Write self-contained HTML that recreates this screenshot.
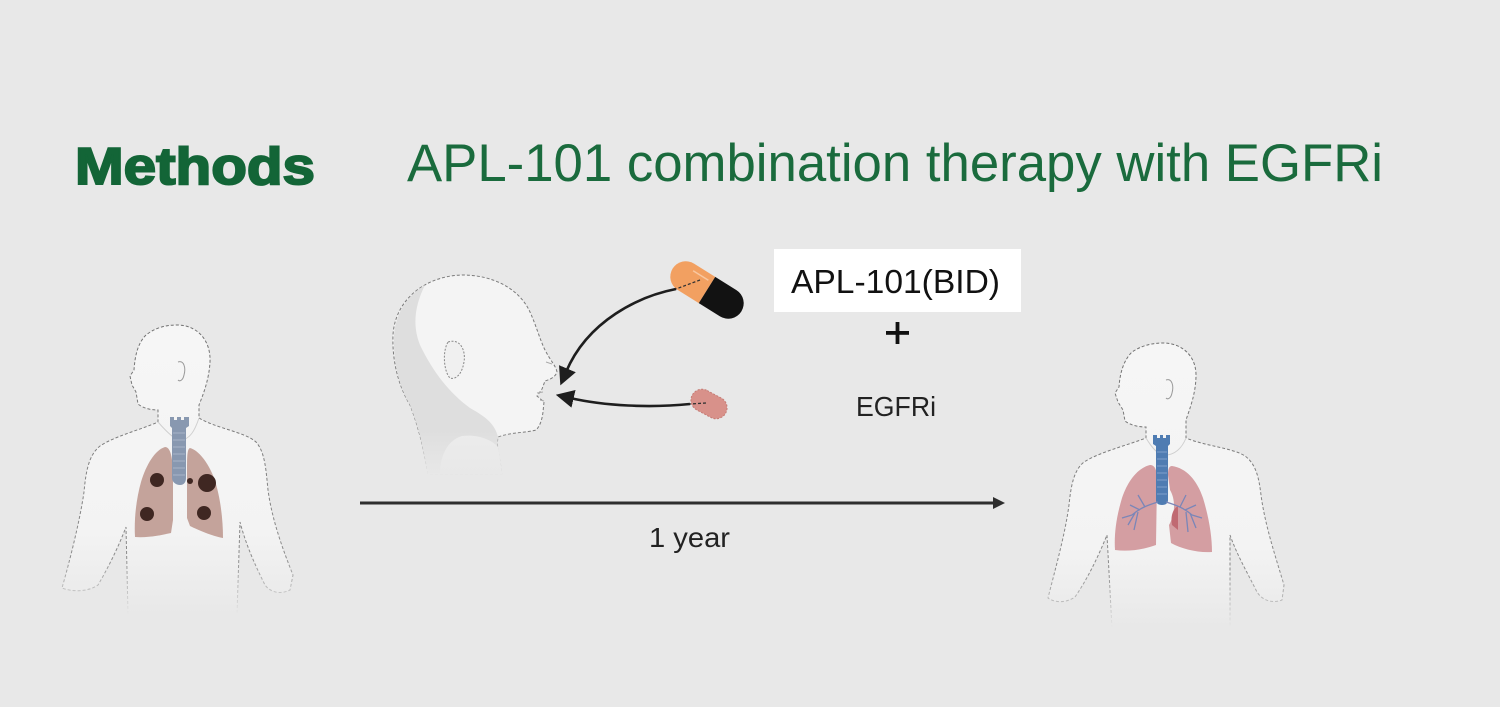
<!DOCTYPE html>
<html>
<head>
<meta charset="utf-8">
<style>
html,body{margin:0;padding:0;background:#e8e8e8;}
body{width:1500px;height:707px;overflow:hidden;}
svg{display:block;}
text{font-family:"Liberation Sans",Arial,sans-serif;}
</style>
</head>
<body>
<svg width="1500" height="707" viewBox="0 0 1500 707" xmlns="http://www.w3.org/2000/svg">
<defs>
  <linearGradient id="bodyL" x1="0" y1="325" x2="0" y2="615" gradientUnits="userSpaceOnUse">
    <stop offset="0" stop-color="#f6f6f6"/>
    <stop offset="0.72" stop-color="#f3f3f3"/>
    <stop offset="1" stop-color="#e8e8e8"/>
  </linearGradient>
  <linearGradient id="bodyR" x1="0" y1="343" x2="0" y2="628" gradientUnits="userSpaceOnUse">
    <stop offset="0" stop-color="#f6f6f6"/>
    <stop offset="0.72" stop-color="#f3f3f3"/>
    <stop offset="1" stop-color="#e8e8e8"/>
  </linearGradient>
  <linearGradient id="strokeL" x1="0" y1="325" x2="0" y2="615" gradientUnits="userSpaceOnUse">
    <stop offset="0" stop-color="#707070"/>
    <stop offset="0.8" stop-color="#8a8a8a"/>
    <stop offset="1" stop-color="#8a8a8a" stop-opacity="0"/>
  </linearGradient>
  <linearGradient id="strokeR" x1="0" y1="343" x2="0" y2="628" gradientUnits="userSpaceOnUse">
    <stop offset="0" stop-color="#707070"/>
    <stop offset="0.8" stop-color="#8a8a8a"/>
    <stop offset="1" stop-color="#8a8a8a" stop-opacity="0"/>
  </linearGradient>
  <linearGradient id="headFade" x1="0" y1="430" x2="0" y2="476" gradientUnits="userSpaceOnUse">
    <stop offset="0" stop-color="#e8e8e8" stop-opacity="0"/>
    <stop offset="1" stop-color="#e8e8e8" stop-opacity="1"/>
  </linearGradient>
  <marker id="ah" viewBox="0 0 10 10" refX="2" refY="5" markerWidth="7" markerHeight="7" orient="auto" markerUnits="strokeWidth">
    <path d="M0,0 L10,5 L0,10 Z" fill="#1e1e1e"/>
  </marker>
</defs>

<rect width="1500" height="707" fill="#e8e8e8"/>

<!-- Titles -->
<text x="75" y="184" font-size="52" font-weight="bold" fill="#136537" stroke="#136537" stroke-width="2" textLength="240" lengthAdjust="spacingAndGlyphs">Methods</text>
<text x="407" y="181" font-size="53" fill="#1a6b3d" textLength="976" lengthAdjust="spacingAndGlyphs">APL-101 combination therapy with EGFRi</text>

<!-- Left body -->
<path d="M177 325 C197 325 211 340 210 362 C209 380 203 395 199 405 L199 418 C215 428 245 432 256 442 C265 452 266 470 268 490 C272 520 283 550 293 575 L290 590 C280 595 270 592 265 585 C255 565 246 545 240 522 L237 614 L128 614 L126 527 C118 548 108 568 98 585 C88 592 72 592 62 588 C70 560 80 520 84 492 C86 470 89 455 100 446 C115 436 140 430 158 422 L158 410 C150 410 143 408 138 404 L136 392 L132 385 L130 376 L134 370 C135 355 138 343 146 335 C155 328 165 325 177 325 Z" fill="url(#bodyL)"/>
<path d="M128 614 L126 527 C118 548 108 568 98 585 C88 592 72 592 62 588 C70 560 80 520 84 492 C86 470 89 455 100 446 C115 436 140 430 158 422 L158 410 C150 410 143 408 138 404 L136 392 L132 385 L130 376 L134 370 C135 355 138 343 146 335 C155 328 165 325 177 325 C197 325 211 340 210 362 C209 380 203 395 199 405 L199 418 C215 428 245 432 256 442 C265 452 266 470 268 490 C272 520 283 550 293 575 L290 590 C280 595 270 592 265 585 C255 565 246 545 240 522 L237 614" fill="none" stroke="url(#strokeL)" stroke-width="1" stroke-dasharray="3 2"/>
<path d="M158 422 C165 430 175 440 180 440 C190 440 195 430 199 418" fill="none" stroke="#d0d0d0" stroke-width="1"/>
<path d="M178 362 C184 360 186 368 184 375 C183 380 180 382 178 380" fill="none" stroke="#999" stroke-width="1"/>
<!-- lungs left body -->
<path d="M165 447 C155 450 146 465 141 482 C136 500 134 520 135 537 C148 538 162 535 171 533 L173 520 L173 470 C172 455 170 447 165 447 Z" fill="#c4a39b"/>
<path d="M190 448 C198 450 208 462 214 478 C220 495 223 518 223 538 C212 536 198 530 190 526 L187 518 L187 470 C187 458 187 449 190 448 Z" fill="#c4a39b"/>
<!-- trachea -->
<path d="M170 417 L174 417 L174 420 L177 420 L177 417 L181 417 L181 420 L184 420 L184 417 L189 417 L189 426 L186 428 L186 478 C186 482 184 485 180 485 C176 485 172 482 172 478 L172 428 L170 426 Z" fill="#8898b0"/>
<g stroke="#a9b5c8" stroke-width="1">
  <line x1="173" y1="433" x2="185" y2="433"/><line x1="173" y1="440" x2="185" y2="440"/>
  <line x1="173" y1="447" x2="185" y2="447"/><line x1="173" y1="454" x2="185" y2="454"/>
  <line x1="173" y1="461" x2="185" y2="461"/><line x1="173" y1="468" x2="185" y2="468"/>
  <line x1="173" y1="475" x2="185" y2="475"/>
</g>
<g fill="#3f2722">
  <circle cx="157" cy="480" r="7"/>
  <circle cx="147" cy="514" r="7"/>
  <circle cx="207" cy="483" r="9"/>
  <circle cx="190" cy="481" r="3"/>
  <circle cx="204" cy="513" r="7"/>
</g>

<!-- Right body -->
<path d="M1163 343 C1182 343 1196 356 1196 375 C1196 393 1190 408 1186 420 L1186 438 C1205 446 1233 448 1245 456 C1256 464 1259 478 1261 495 C1265 525 1275 555 1284 585 L1282 600 C1272 604 1262 600 1257 592 C1247 572 1237 555 1230 535 L1230 628 L1112 628 L1107 535 C1098 557 1088 578 1075 597 C1066 603 1055 603 1048 598 C1055 570 1065 535 1069 505 C1071 485 1074 470 1084 462 C1100 452 1125 446 1146 438 L1146 427 C1138 427 1130 425 1125 421 L1123 410 L1118 402 L1115 393 L1119 387 C1120 372 1124 360 1132 352 C1141 346 1151 343 1163 343 Z" fill="url(#bodyR)"/>
<path d="M1112 628 L1107 535 C1098 557 1088 578 1075 597 C1066 603 1055 603 1048 598 C1055 570 1065 535 1069 505 C1071 485 1074 470 1084 462 C1100 452 1125 446 1146 438 L1146 427 C1138 427 1130 425 1125 421 L1123 410 L1118 402 L1115 393 L1119 387 C1120 372 1124 360 1132 352 C1141 346 1151 343 1163 343 C1182 343 1196 356 1196 375 C1196 393 1190 408 1186 420 L1186 438 C1205 446 1233 448 1245 456 C1256 464 1259 478 1261 495 C1265 525 1275 555 1284 585 L1282 600 C1272 604 1262 600 1257 592 C1247 572 1237 555 1230 535 L1230 628" fill="none" stroke="url(#strokeR)" stroke-width="1" stroke-dasharray="3 2"/>
<path d="M1146 438 C1152 448 1158 455 1165 455 C1175 455 1182 448 1186 438" fill="none" stroke="#d0d0d0" stroke-width="1"/>
<path d="M1166 380 C1172 378 1174 386 1172 393 C1171 398 1168 400 1166 398" fill="none" stroke="#999" stroke-width="1"/>
<path d="M1150 465 C1138 468 1128 480 1122 498 C1116 518 1114 535 1115 550 C1130 552 1145 549 1156 545 L1157 480 C1157 470 1155 465 1150 465 Z" fill="#d49ea2"/>
<path d="M1172 466 C1186 468 1197 480 1203 498 C1209 518 1212 536 1212 552 C1198 553 1182 549 1171 543 L1169 525 C1175 515 1176 500 1170 490 L1168 475 C1168 469 1169 466 1172 466 Z" fill="#d49ea2"/>
<path d="M1172 525 C1170 515 1174 508 1178 506 L1178 530 Z" fill="#c06a72"/>
<path d="M1153 435 L1157 435 L1157 438 L1160 438 L1160 435 L1163 435 L1163 438 L1166 438 L1166 435 L1170 435 L1170 444 L1168 446 L1168 500 C1168 503 1166 505 1162 505 C1158 505 1156 503 1156 500 L1156 446 L1153 444 Z" fill="#4f7cb2"/>
<g stroke="#7f9fcc" stroke-width="1">
  <line x1="1157" y1="452" x2="1167" y2="452"/><line x1="1157" y1="459" x2="1167" y2="459"/>
  <line x1="1157" y1="466" x2="1167" y2="466"/><line x1="1157" y1="473" x2="1167" y2="473"/>
  <line x1="1157" y1="480" x2="1167" y2="480"/><line x1="1157" y1="487" x2="1167" y2="487"/>
  <line x1="1157" y1="494" x2="1167" y2="494"/>
</g>
<g stroke="#7a86b8" stroke-width="1.3" fill="none">
  <path d="M1158 502 C1148 505 1140 508 1132 515 M1145 507 L1138 495 M1140 510 L1130 505 M1135 513 L1128 525 M1138 512 L1134 530 M1132 515 L1122 518"/>
  <path d="M1166 502 C1176 505 1184 508 1192 515 M1180 507 L1186 495 M1185 510 L1196 505 M1190 513 L1196 528 M1186 512 L1188 532 M1192 515 L1202 518"/>
</g>

<!-- Middle head -->
<path d="M428 474 C424 450 418 425 410 405 C398 385 392 360 393 335 C395 300 425 276 462 275 C495 275 520 290 530 312 C536 325 540 340 545 350 C550 360 556 366 557 372 C555 378 548 380 545 381 L542 389 L537 396 L544 402 L543 412 C542 420 540 426 536 430 C525 433 512 432 498 437 C496 448 500 458 502 474 Z" fill="#f4f4f4" stroke="#7a7a7a" stroke-width="1" stroke-dasharray="3 2"/>
<path d="M428 474 C424 450 418 425 410 405 C398 385 393 360 394 335 C396 312 408 295 425 285 C415 305 412 325 420 345 C432 370 448 392 470 408 C488 418 495 425 498 437 C496 448 500 458 502 474 Z" fill="#dedede"/>
<path d="M440 474 C440 455 448 440 462 436 C478 434 492 440 498 447 C500 458 501 466 502 474 Z" fill="#ececec"/>
<path d="M448 342 C460 338 466 350 464 362 C462 374 456 380 450 378 C444 372 442 352 448 342 Z" fill="#f0f0f0" stroke="#888" stroke-width="1" stroke-dasharray="2 1.5"/>
<path d="M546 362 L552 364 M537 393 L543 392 M540 400 L544 401" stroke="#aaa" stroke-width="1"/>
<rect x="385" y="430" width="180" height="48" fill="url(#headFade)"/>

<!-- Capsule -->
<g transform="translate(707 290) rotate(32)">
  <path d="M0 -15.5 L-25 -15.5 A15.5 15.5 0 0 0 -25 15.5 L0 15.5 Z" fill="#f2a061"/>
  <path d="M0 -15.5 L25 -15.5 A15.5 15.5 0 0 1 25 15.5 L0 15.5 Z" fill="#121212"/>
  <line x1="-22" y1="-9" x2="-4" y2="-9" stroke="#f8c7a0" stroke-width="1.5"/>
</g>
<!-- Tablet -->
<g transform="translate(709 404) rotate(28)">
  <rect x="-19" y="-11" width="38" height="22" rx="11" fill="#d8918a" stroke="#c57b74" stroke-width="1" stroke-dasharray="2 1.5"/>
</g>

<!-- Curved arrows -->
<path d="M700 280 L676 289" stroke="#333" stroke-width="1.3" stroke-dasharray="3 2" fill="none"/>
<path d="M676 289 C640 296 588 320 566 372" stroke="#1e1e1e" stroke-width="2.6" fill="none" marker-end="url(#ah)"/>
<path d="M706 403 L690 404" stroke="#333" stroke-width="1.3" stroke-dasharray="3 2" fill="none"/>
<path d="M690 404 C650 408 605 406 570 398" stroke="#1e1e1e" stroke-width="2.6" fill="none" marker-end="url(#ah)"/>

<!-- Drug labels -->
<rect x="774" y="249" width="247" height="63" fill="#ffffff"/>
<text x="791" y="293" font-size="33" fill="#111" textLength="209" lengthAdjust="spacingAndGlyphs">APL-101(BID)</text>
<rect x="886" y="331" width="23" height="3.8" fill="#111"/>
<rect x="895.6" y="322" width="3.8" height="22" fill="#111"/>
<text x="856" y="416" font-size="28" fill="#222" textLength="80" lengthAdjust="spacingAndGlyphs">EGFRi</text>

<!-- Timeline -->
<line x1="360" y1="503" x2="995" y2="503" stroke="#2e2e2e" stroke-width="3"/>
<polygon points="993,497 1005,503 993,509" fill="#2e2e2e"/>
<text x="649" y="547" font-size="28" fill="#222" textLength="81" lengthAdjust="spacingAndGlyphs">1 year</text>
</svg>
</body>
</html>
